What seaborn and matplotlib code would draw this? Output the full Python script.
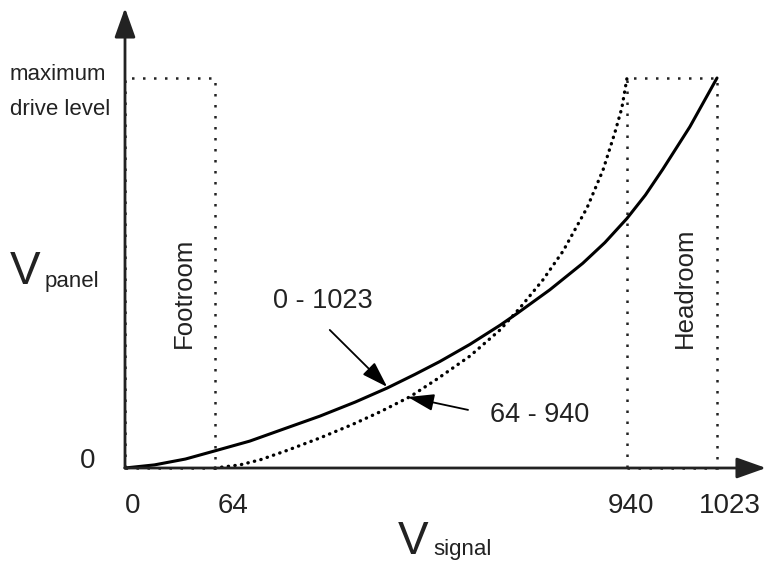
import numpy as np
import matplotlib
matplotlib.use("Agg")
import matplotlib.pyplot as plt
import seaborn as sns
from matplotlib.patches import Rectangle

# curves: code value -> drive level (0..1)
signal_full = [0, 21, 43, 64, 138, 217, 287, 362, 430, 489, 542, 606, 670, 706,
               776, 846, 893, 940, 957, 973, 998, 1023]
level_full = [0, 0.008, 0.023, 0.044, 0.069, 0.103, 0.133, 0.169, 0.205, 0.240,
              0.273, 0.317, 0.366, 0.396, 0.457, 0.525, 0.578, 0.640, 0.700,
              0.766, 0.875, 1.0]

signal_ltd = [64, 117, 160, 217, 287, 357, 415, 479, 536, 606, 670, 712, 761,
              804, 855, 889, 914, 929, 940]
level_ltd = [0, 0.008, 0.021, 0.045, 0.077, 0.112, 0.144, 0.183, 0.228, 0.287,
             0.354, 0.410, 0.482, 0.556, 0.667, 0.764, 0.859, 0.923, 1.0]

tick_codes = [0, 64, 940, 1023]
tick_labels = ["0", "64", "940", "1023"]
footroom = (0, 64)
headroom = (940, 1023)

sns.set_theme(style="white")
plt.rcParams["font.family"] = ["Liberation Sans", "DejaVu Sans"]

# schematic (non-linear) x axis: code values placed at fixed spots
pos = [0, 90, 502, 592]


def fwd(x):
    x = np.asarray(x, dtype=float)
    y = np.interp(x, tick_codes, pos)
    lo = (pos[1] - pos[0]) / (tick_codes[1] - tick_codes[0])
    hi = (pos[-1] - pos[-2]) / (tick_codes[-1] - tick_codes[-2])
    y = np.where(x < tick_codes[0], pos[0] + (x - tick_codes[0]) * lo, y)
    y = np.where(x > tick_codes[-1], pos[-1] + (x - tick_codes[-1]) * hi, y)
    return y


def inv(p):
    p = np.asarray(p, dtype=float)
    x = np.interp(p, pos, tick_codes)
    lo = (tick_codes[1] - tick_codes[0]) / (pos[1] - pos[0])
    hi = (tick_codes[-1] - tick_codes[-2]) / (pos[-1] - pos[-2])
    x = np.where(p < pos[0], tick_codes[0] + (p - pos[0]) * lo, x)
    x = np.where(p > pos[-1], tick_codes[-1] + (p - pos[-1]) * hi, x)
    return x


W, H = 768, 564
fig = plt.figure(figsize=(W / 100, H / 100), dpi=100)
ax = fig.add_axes([0, 0, 1, 1])
ax.set_xscale("function", functions=(fwd, inv))
ax.set_xlim(float(inv(-125)), float(inv(W - 125)))
ax.set_ylim(-(H - 468) / 390, 468 / 390)
ax.axis("off")


def px(x, y):
    # figure pixel (from top-left) -> figure fraction
    return x / W, 1 - y / H


# dotted footroom / headroom boxes
for a, b in (footroom, headroom):
    ax.add_patch(Rectangle((a, 0), b - a, 1, fill=False, ec="#222222", lw=1.8,
                           ls=(0, (1, 3.4)), zorder=2))

# curves
sns.lineplot(x=signal_full, y=level_full, ax=ax, color="black", lw=2.2,
             estimator=None, sort=False, zorder=4)
sns.lineplot(x=signal_ltd, y=level_ltd, ax=ax, color="black", lw=2.4,
             estimator=None, sort=False, zorder=4,
             linestyle=(0, (0.1, 1.9)), dash_capstyle="round")

# axes with arrowheads
axis_arrow = dict(arrowstyle="-|>,head_length=0.9,head_width=0.32",
                  mutation_scale=20, lw=2, color="#222222", shrinkA=0, shrinkB=0)
ax.annotate("", xy=(0, 460 / 390), xytext=(0, 0), arrowprops=axis_arrow, zorder=5)
ax.annotate("", xy=(float(inv(766 - 125)), 0), xytext=(0, 0),
            arrowprops=axis_arrow, zorder=5)

# tick labels
offsets = [8, 18, 4, 13]
for c, lab, dx in zip(tick_codes, tick_labels, offsets):
    ax.annotate(lab, (c, 0), xytext=(dx, -45), textcoords="offset pixels",
                ha="center", va="baseline", fontsize=20, color="#222222")
ax.annotate("0", (0, 0), xytext=(-37, 0), textcoords="offset pixels",
            ha="center", va="baseline", fontsize=20, color="#222222")

# labels
fig.text(*px(10, 80), "maximum", fontsize=16, va="baseline", color="#222222")
fig.text(*px(10, 115), "drive level", fontsize=16, va="baseline", color="#222222")
fig.text(*px(10, 284), "V", fontsize=33, va="baseline", color="#222222")
fig.text(*px(45, 287), "panel", fontsize=16, va="baseline", color="#222222")
fig.text(*px(398, 564), "V", fontsize=33, va="bottom", color="#222222")
fig.text(*px(433, 555), "signal", fontsize=16, va="baseline", color="#222222")
fig.text(*px(184, 348), "Footroom", fontsize=18.5, rotation=90,
         ha="center", va="bottom", color="#222222")
fig.text(*px(685, 348), "Headroom", fontsize=18.5, rotation=90,
         ha="center", va="bottom", color="#222222")
fig.text(*px(273, 308), "0 - 1023", fontsize=19.5, va="baseline", color="#222222")
fig.text(*px(490, 422), "64 - 940", fontsize=19.5, va="baseline", color="#222222")

# pointer arrows to the curves
ptr = dict(arrowstyle="-|>,head_length=0.8,head_width=0.26", mutation_scale=20,
           lw=1.3, color="black", shrinkA=0, shrinkB=0)
ax.annotate("", xy=(430, 0.208), xytext=(308, 0.354), arrowprops=ptr, zorder=5)
ax.annotate("", xy=(474, 0.182), xytext=(602, 0.149), arrowprops=ptr, zorder=5)

fig.savefig("out.png", dpi=100, facecolor="white")
